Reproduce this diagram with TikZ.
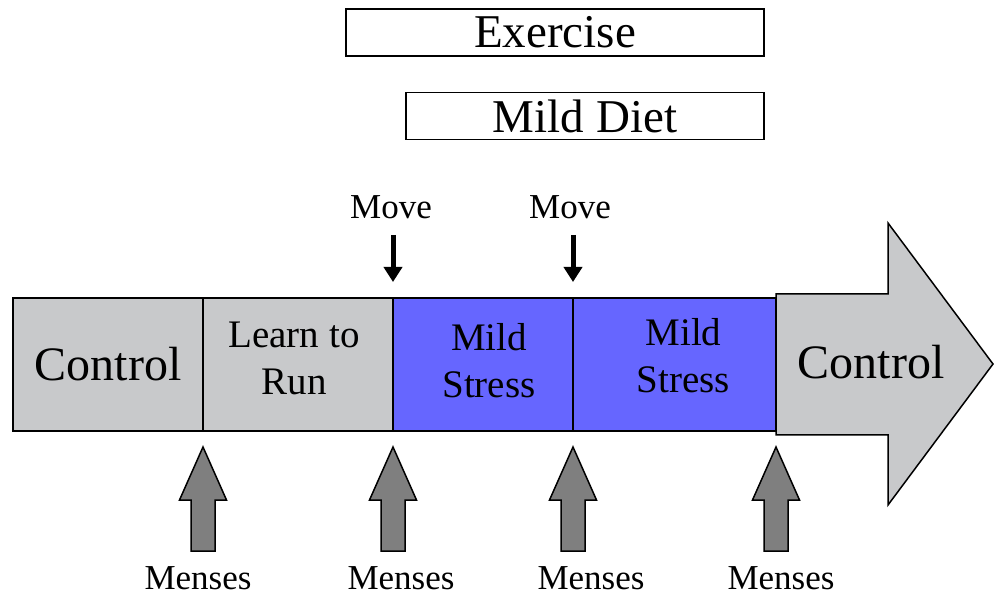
\documentclass[tikz,border=0pt]{standalone}
\usepackage{fontspec}
\setmainfont{Liberation Serif}
\usetikzlibrary{arrows.meta, positioning, calc}
\definecolor{barGray}{HTML}{C8C9CB}
\definecolor{stressBlue}{HTML}{6666FF}
\definecolor{mensesGray}{HTML}{7F7F7F}

\begin{document}
\begin{tikzpicture}[x=1pt, y=1pt,
	graybox/.style={rectangle, draw, line width=2pt, fill=barGray, minimum height=133pt, outer sep=0pt, inner sep=0pt, align=center},
	bluebox/.style={graybox, fill=stressBlue},
	topbox/.style={rectangle, draw, line width=1.8pt, minimum height=47pt, inner sep=0pt, font=\fontsize{47}{50}\selectfont},
	big/.style={font=\fontsize{48}{52}\selectfont},
	mid/.style={inner sep=0pt, font=\fontsize{39}{47}\selectfont},
	small/.style={inner sep=0pt, font=\fontsize{35}{40}\selectfont},
	movearrow/.style={-{Triangle[width=18pt, length=15pt]}, line width=5pt},
	mensesarrow/.style={draw, line width=1.5pt, fill=mensesGray, line join=miter},
	every node/.style={align=center}
	]
	\useasboundingbox (0,0) rectangle (995,597);
	
	% treatment boxes
	\node[topbox, minimum width=418pt] (exercise) at (555,564.5) {Exercise};
	\node[topbox, minimum width=358pt] (diet) at (585,481) {Mild Diet};
	
	% time line
	\node[graybox, minimum width=190pt, big] (ctrlA) at (108,232.5) {Control};
	\node[graybox, minimum width=190pt, right=0pt of ctrlA,
		label={[mid, xshift=-4pt, yshift=6pt]center:Learn to\\Run}] (learn) {};
	\node[bluebox, minimum width=180pt, right=0pt of learn,
		label={[mid, xshift=6pt, yshift=4pt]center:Mild\\Stress}] (stressA) {};
	\node[bluebox, minimum width=203pt, right=0pt of stressA,
		label={[mid, xshift=9pt, yshift=9pt]center:Mild\\Stress}] (stressB) {};
	
	\draw[line width=1.5pt, fill=barGray, line join=miter] ($(stressB.east)+(0,70.5)$) -- ++(112,0) -- ++(0,71)
		-- (993,233) -- (888,92) -- (888,162) -- ($(stressB.east)+(0,-70.5)$) -- cycle;
	\node[big] (ctrlB) at (871,235) {Control};
	
	% moves
	\node[small] (moveA) at (391,390) {Move};
	\node[small] (moveB) at (570,390) {Move};
	\draw[movearrow, shorten <=16pt, shorten >=16pt] (stressA.north west |- moveA.south) -- (stressA.north west);
	\draw[movearrow, shorten <=16pt, shorten >=16pt] (stressB.north west |- moveB.south) -- (stressB.north west);
	
	% menses
	\foreach \s/\n/\lx in {ctrlA/a/198, learn/b/401, stressA/c/591, stressB/d/781} {
		\draw[mensesarrow] ($(\s.south east)+(0,-16)$) -- ++(23.5,-53) -- ++(-11.5,0) -- ++(0,-51)
			-- ++(-24,0) -- ++(0,51) -- ++(-11.5,0) -- cycle;
		\node[small] (menses-\n) at (\lx,19) {Menses};
	}
\end{tikzpicture}
\end{document}
